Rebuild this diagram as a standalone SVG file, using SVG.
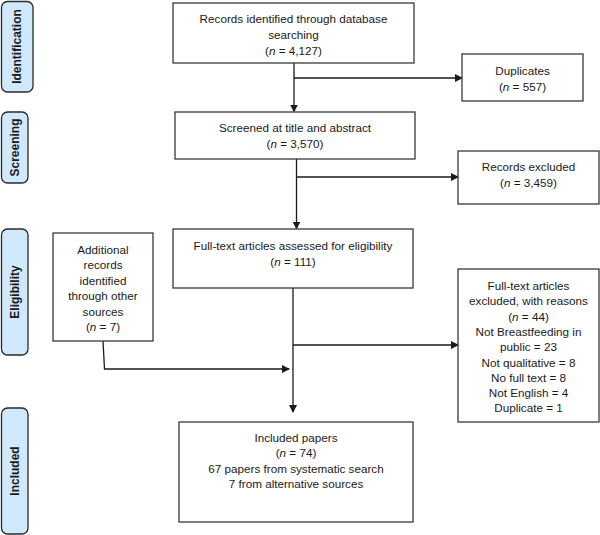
<svg xmlns="http://www.w3.org/2000/svg" width="600" height="535" viewBox="0 0 600 535">
<style>
.box{fill:#fff;stroke:#3a3a3a;stroke-width:1.3}
.side{fill:#cfe9fb;stroke:#2a2a2a;stroke-width:1.3}
text{font-family:"Liberation Sans",Arial,sans-serif;font-size:11.7px;fill:#1a1a1a;text-anchor:middle}
.lbl{font-weight:bold;font-size:12px}
.con{fill:none;stroke:#1a1a1a;stroke-width:1.3}
</style>
<defs>
<marker id="ah" markerWidth="8" markerHeight="8" refX="7" refY="4" orient="auto" markerUnits="userSpaceOnUse">
<path d="M0,0 L8,4 L0,8 Z" fill="#1a1a1a"/>
</marker>
</defs>
<rect width="600" height="535" fill="#fff"/>
<g id="stage-identification">
<rect class="side" x="1.5" y="1.5" width="31.5" height="90.5" rx="6"/>
<text class="lbl" transform="translate(21,46.5) rotate(-90)">Identification</text>
</g>
<g id="stage-screening">
<rect class="side" x="1.5" y="112" width="26.5" height="71" rx="6"/>
<text class="lbl" transform="translate(18.5,147.5) rotate(-90)">Screening</text>
</g>
<g id="stage-eligibility">
<rect class="side" x="1.5" y="229" width="26.5" height="126" rx="6"/>
<text class="lbl" transform="translate(18.5,292) rotate(-90)">Eligibility</text>
</g>
<g id="stage-included">
<rect class="side" x="1.5" y="408" width="26.5" height="126" rx="6"/>
<text class="lbl" transform="translate(18.5,471) rotate(-90)">Included</text>
</g>
<g id="connectors">
<line class="con" x1="294" y1="63" x2="294" y2="111.5" marker-end="url(#ah)"/>
<line class="con" x1="294" y1="78" x2="462" y2="78" marker-end="url(#ah)"/>
<line class="con" x1="296.5" y1="159" x2="296.5" y2="228.5" marker-end="url(#ah)"/>
<line class="con" x1="296.5" y1="177" x2="458" y2="177" marker-end="url(#ah)"/>
<line class="con" x1="293" y1="288" x2="293" y2="412" marker-end="url(#ah)"/>
<line class="con" x1="293" y1="345" x2="458" y2="345" marker-end="url(#ah)"/>
<polyline class="con" points="103,341 104.5,369 289,369" marker-end="url(#ah)"/>
</g>
<g id="records-identified">
<rect class="box" x="173" y="3" width="241" height="60"/>
<text x="293.5" y="23">Records identified through database</text>
<text x="293.5" y="38.5">searching</text>
<text x="293.5" y="55">(<tspan font-style="italic">n</tspan> = 4,127)</text>
</g>
<g id="duplicates">
<rect class="box" x="462" y="54" width="121" height="47"/>
<text x="522.5" y="75">Duplicates</text>
<text x="522.5" y="91">(<tspan font-style="italic">n</tspan> = 557)</text>
</g>
<g id="screened">
<rect class="box" x="175" y="112" width="240" height="47"/>
<text x="295" y="132">Screened at title and abstract</text>
<text x="295" y="148">(<tspan font-style="italic">n</tspan> = 3,570)</text>
</g>
<g id="records-excluded">
<rect class="box" x="458" y="151" width="141" height="53"/>
<text x="528.5" y="171">Records excluded</text>
<text x="528.5" y="187">(<tspan font-style="italic">n</tspan> = 3,459)</text>
</g>
<g id="additional-records">
<rect class="box" x="53" y="233" width="100" height="108"/>
<text x="103" y="254">Additional</text>
<text x="103" y="269">records</text>
<text x="103" y="284.5">identified</text>
<text x="103" y="300">through other</text>
<text x="103" y="315.5">sources</text>
<text x="103" y="331">(<tspan font-style="italic">n</tspan> = 7)</text>
</g>
<g id="full-text-assessed">
<rect class="box" x="173" y="229" width="240" height="59"/>
<text x="293" y="250">Full-text articles assessed for eligibility</text>
<text x="293" y="266">(<tspan font-style="italic">n</tspan> = 111)</text>
</g>
<g id="full-text-excluded">
<rect class="box" x="458" y="269" width="141" height="153"/>
<text x="528.5" y="290">Full-text articles</text>
<text x="528.5" y="305">excluded, with reasons</text>
<text x="528.5" y="320.5">(<tspan font-style="italic">n</tspan> = 44)</text>
<text x="528.5" y="336">Not Breastfeeding in</text>
<text x="528.5" y="351">public = 23</text>
<text x="528.5" y="366.5">Not qualitative = 8</text>
<text x="528.5" y="381.5">No full text = 8</text>
<text x="528.5" y="397">Not English = 4</text>
<text x="528.5" y="412">Duplicate = 1</text>
</g>
<g id="included-papers">
<rect class="box" x="179" y="422" width="234" height="100"/>
<text x="296" y="442">Included papers</text>
<text x="296" y="457">(<tspan font-style="italic">n</tspan> = 74)</text>
<text x="296" y="472.5">67 papers from systematic search</text>
<text x="296" y="488">7 from alternative sources</text>
</g>
</svg>
